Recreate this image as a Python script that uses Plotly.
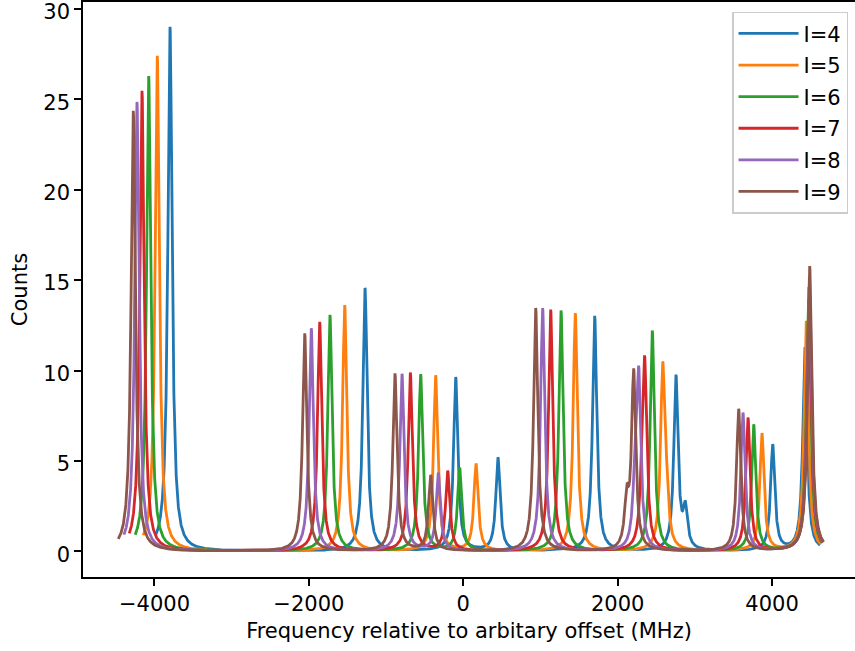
import numpy as np
import plotly.graph_objects as go

# ---------------- data ----------------
labels = ["I=4", "I=5", "I=6", "I=7", "I=8", "I=9"]
colors = ["#1f77b4", "#ff7f0e", "#2ca02c", "#d62728", "#9467bd", "#8c564b"]

# Lorentzian half width at half maximum (MHz)
hwhm = 33.0

# peak centres (MHz) and peak amplitudes (counts) for each spin I
centers_I4 = [-3799, -1273, -98, 449, 1702, 2755, 2876, 4008, 4426]
amps_I4 = [29.0, 14.55, 9.6, 5.15, 13.0, 9.6, 2.1, 5.85, 11.25]

centers_I5 = [-3964, -1536, -358, 165, 1451, 2583, 2628, 3869, 4443]
amps_I5 = [27.4, 13.6, 9.7, 4.8, 13.15, 9.65, 2.3, 6.48, 12.72]

centers_I6 = [-4075, -1727, -552, -47, 1266, 2448, 2450, 3762, 4472]
amps_I6 = [26.28, 13.06, 9.76, 4.57, 13.3, 9.7, 2.5, 6.98, 13.9]

centers_I7 = [-4162, -1860, -686, -202, 1132, 2350, 2318, 3688, 4478]
amps_I7 = [25.47, 12.67, 9.85, 4.40, 13.35, 9.7, 2.1, 7.36, 14.6]

centers_I8 = [-4227, -1969, -794, -324, 1028, 2272, 2219, 3623, 4483]
amps_I8 = [24.85, 12.32, 9.78, 4.29, 13.43, 9.6, 2.3, 7.64, 15.2]

centers_I9 = [-4275, -2054, -885, -422, 938, 2207, 2117, 3567, 4487]
amps_I9 = [24.36, 12.04, 9.80, 4.16, 13.44, 9.8, 2.5, 7.85, 15.76]

# frequency span of each scan (MHz)
x_start = [-3984, -4145, -4249, -4326, -4395, -4469]
x_end = [4621, 4628, 4652, 4658, 4662, 4667]

centers = [centers_I4, centers_I5, centers_I6, centers_I7, centers_I8, centers_I9]
amps = [amps_I4, amps_I5, amps_I6, amps_I7, amps_I8, amps_I9]

# ---------------- figure ----------------
fig = go.Figure()
for i, lab in enumerate(labels):
    x = np.arange(x_start[i], x_end[i] + 0.5, 1.0)
    y = np.zeros_like(x, dtype=float)
    for c, a in zip(centers[i], amps[i]):
        y += a * hwhm**2 / ((x - c) ** 2 + hwhm**2)
    fig.add_trace(go.Scatter(
        x=x, y=y, mode="lines", name=lab,
        line=dict(color=colors[i], width=2.8),
        legendgroup=lab,
    ))

axis_font = dict(family="DejaVu Sans", size=21, color="black")

fig.update_layout(
    width=855, height=651,
    margin=dict(l=83, r=0, t=2, b=74),
    paper_bgcolor="white", plot_bgcolor="white",
    font=axis_font,
    showlegend=True,
    legend=dict(
        x=0.991, xanchor="right", y=0.983, yanchor="top",
        bgcolor="rgba(255,255,255,0.8)", bordercolor="#cccccc", borderwidth=1.5,
        font=dict(family="DejaVu Sans", size=21, color="black"),
        tracegroupgap=1.3, itemwidth=60,
    ),
)
fig.update_xaxes(
    range=[-4926, 5074],
    tickvals=[-4000, -2000, 0, 2000, 4000],
    showline=True, linecolor="black", linewidth=1.6, mirror=True,
    ticks="outside", ticklen=7, tickwidth=1.6, tickcolor="black",
    showgrid=False, zeroline=False,
    tickfont=axis_font, ticklabeloverflow="allow", automargin="bottom",
    title=dict(text="Frequency relative to arbitary offset (MHz)", font=axis_font, standoff=8),
)
fig.update_yaxes(
    range=[-1.42, 30.38],
    tickvals=[0, 5, 10, 15, 20, 25, 30],
    showline=True, linecolor="black", linewidth=1.6, mirror=False,
    ticks="outside", ticklen=7, tickwidth=1.6, tickcolor="black",
    showgrid=False, zeroline=False,
    tickfont=axis_font, ticklabeloverflow="allow", automargin="left",
    ticklabelshift=3,
    title=dict(text="Counts", font=axis_font, standoff=10),
)

fig.write_html("out.html")
